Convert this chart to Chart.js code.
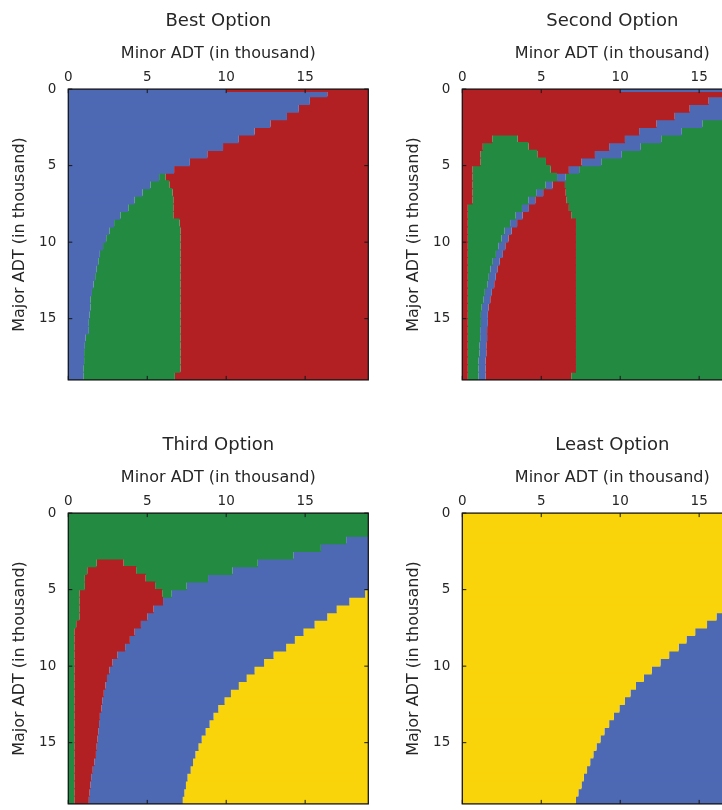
<!DOCTYPE html>
<html>
<head>
<meta charset="utf-8">
<script src="https://cdn.jsdelivr.net/npm/chart.js@4.4.1/dist/chart.umd.min.js"></script>
<style>
  html, body { margin: 0; padding: 0; background: #fff; overflow: hidden; width: 722px; height: 810px; }
  canvas.panel { position: absolute; width: 394px; height: 400px; }
</style>
</head>
<body>
<canvas id="best"   class="panel" width="394" height="400" style="left:0;top:0"></canvas>
<canvas id="second" class="panel" width="394" height="400" style="left:394px;top:0"></canvas>
<canvas id="third"  class="panel" width="394" height="400" style="left:0;top:424px"></canvas>
<canvas id="least"  class="panel" width="394" height="400" style="left:394px;top:424px"></canvas>
<script>
const COLORS = {
  blue:   '#4e69b4',
  red:    '#b22024',
  green:  '#238a42',
  yellow: '#fad40a',
};
const TEXT = '#262626';

const X_MIN = 0;
const X_MAX = 19;
const xTickValues = [0, 5, 10, 15];
const yTickValues = [0, 5, 10, 15];

// rows of the map, major ADT (in thousand)
const rowCenters = [0.25, 0.75, 1.25, 1.75, 2.25, 2.75, 3.25, 3.75, 4.25, 4.75,
  5.25, 5.75, 6.25, 6.75, 7.25, 7.75, 8.25, 8.75, 9.25, 9.75,
  10.25, 10.75, 11.25, 11.75, 12.25, 12.75, 13.25, 13.75, 14.25, 14.75,
  15.25, 15.75, 16.25, 16.75, 17.25, 17.75, 18.25, 18.75];

// Best Option: blue | green | red
const bestBlueEnd = [16.4, 15.3, 14.6, 13.85, 12.8, 11.8, 10.8, 9.8, 8.8, 7.7,
  6.7, 5.75, 5.2, 4.7, 4.2, 3.8, 3.3, 2.9, 2.6, 2.4,
  2.2, 2.0, 1.9, 1.8, 1.7, 1.6, 1.5, 1.4, 1.4, 1.35,
  1.3, 1.3, 1.1, 1.05, 1.0, 1.0, 0.95, 0.95];
const bestGreenEnd = [16.4, 15.3, 14.6, 13.85, 12.8, 11.8, 10.8, 9.8, 8.8, 7.7,
  6.7, 6.15, 6.4, 6.6, 6.65, 6.65, 6.65, 7.05, 7.1, 7.1,
  7.1, 7.1, 7.1, 7.1, 7.1, 7.1, 7.1, 7.1, 7.1, 7.1,
  7.1, 7.1, 7.1, 7.1, 7.1, 7.1, 7.1, 6.75];
const bestTopRow = [10, 19];

// Second Option: red | green | red | blue | red | green
const secondA = [16.7, 15.6, 14.4, 13.45, 12.3, 11.2, 1.9, 1.3, 1.15, 1.15,
  0.65, 0.65, 0.65, 0.65, 0.65, 0.35, 0.35, 0.35, 0.35, 0.35,
  0.35, 0.35, 0.35, 0.35, 0.35, 0.35, 0.35, 0.35, 0.35, 0.35,
  0.35, 0.35, 0.35, 0.35, 0.35, 0.35, 0.35, 0.35];
const secondB = [16.7, 15.6, 14.4, 13.45, 12.3, 11.2, 3.5, 4.2, 4.75, 5.3,
  5.6, 6.0, 5.28, 4.68, 4.18, 3.78, 3.38, 3.03, 2.68, 2.48,
  2.28, 2.13, 1.93, 1.78, 1.68, 1.58, 1.43, 1.33, 1.23, 1.18,
  1.18, 1.13, 1.13, 1.08, 1.08, 1.03, 1.03, 1.03];
const secondC = [16.7, 15.6, 14.4, 13.45, 12.3, 11.2, 10.3, 9.3, 8.4, 7.55,
  6.75, 6.0, 5.28, 4.68, 4.18, 3.78, 3.38, 3.03, 2.68, 2.48,
  2.28, 2.13, 1.93, 1.78, 1.68, 1.58, 1.43, 1.33, 1.23, 1.18,
  1.18, 1.13, 1.13, 1.08, 1.08, 1.03, 1.03, 1.03];
const secondD = [19, 19, 18.2, 16.5, 15.2, 13.9, 12.6, 11.3, 10.1, 8.8,
  7.4, 6.55, 5.72, 5.12, 4.62, 4.22, 3.82, 3.47, 3.12, 2.92,
  2.72, 2.57, 2.37, 2.22, 2.12, 2.02, 1.87, 1.77, 1.67, 1.62,
  1.62, 1.57, 1.57, 1.52, 1.52, 1.47, 1.47, 1.47];
const secondE = [19, 19, 18.2, 16.5, 15.2, 13.9, 12.6, 11.3, 10.1, 8.8,
  7.4, 6.55, 6.5, 6.55, 6.6, 6.75, 6.9, 7.2, 7.2, 7.2,
  7.2, 7.2, 7.2, 7.2, 7.2, 7.2, 7.2, 7.2, 7.2, 7.2,
  7.2, 7.2, 7.2, 7.2, 7.2, 7.2, 7.2, 6.9];
const secondTopRow = [10, 19];

// Third Option: green | red | green | blue | yellow
const thirdA = [19, 19, 19, 17.6, 16.0, 14.25, 1.8, 1.2, 1.05, 1.05,
  0.7, 0.7, 0.7, 0.7, 0.5, 0.38, 0.38, 0.38, 0.38, 0.38,
  0.38, 0.38, 0.38, 0.38, 0.38, 0.38, 0.38, 0.38, 0.38, 0.38,
  0.38, 0.38, 0.38, 0.38, 0.38, 0.38, 0.38, 0.38];
const thirdB = [19, 19, 19, 17.6, 16.0, 14.25, 3.5, 4.3, 4.9, 5.5,
  5.95, 6.0, 5.4, 5.0, 4.6, 4.2, 3.9, 3.6, 3.1, 2.8,
  2.6, 2.45, 2.35, 2.25, 2.15, 2.1, 2.0, 1.95, 1.9, 1.85,
  1.8, 1.75, 1.65, 1.55, 1.45, 1.4, 1.35, 1.3];
const thirdC = [19, 19, 19, 17.6, 16.0, 14.25, 12.0, 10.4, 8.85, 7.5,
  6.55, 6.0, 5.4, 5.0, 4.6, 4.2, 3.9, 3.6, 3.1, 2.8,
  2.6, 2.45, 2.35, 2.25, 2.15, 2.1, 2.0, 1.95, 1.9, 1.85,
  1.8, 1.75, 1.65, 1.55, 1.45, 1.4, 1.35, 1.3];
const thirdD = [19, 19, 19, 19, 19, 19, 19, 19, 19, 19,
  18.8, 17.8, 17.0, 16.4, 15.6, 14.9, 14.35, 13.8, 13.0, 12.4,
  11.8, 11.3, 10.8, 10.3, 9.9, 9.5, 9.2, 8.95, 8.7, 8.45,
  8.25, 8.05, 7.9, 7.75, 7.55, 7.45, 7.35, 7.25];

// Least Option: yellow | blue
const leastYellowEnd = [19, 19, 19, 19, 19, 19, 19, 19, 19, 19,
  18.4, 17.6, 16.8, 16.1, 15.5, 14.75, 14.2, 13.7, 13.1, 12.55,
  12.0, 11.5, 11.0, 10.65, 10.3, 9.95, 9.6, 9.3, 9.0, 8.75,
  8.5, 8.3, 8.1, 7.9, 7.7, 7.55, 7.35, 7.2];


const at = (v, i) => Array.isArray(v) ? v[i] : v;

// one floating bar per row, empty segments left out
function band(color, starts, ends) {
  const data = rowCenters
    .map((y, i) => ({ y, x: [at(starts, i), at(ends, i)] }))
    .filter(p => p.x[1] - p.x[0] > 0.01);
  return { type: 'bar', data, backgroundColor: color, borderWidth: 0 };
}

// the half row lying on the top edge
function topRow(color, seg) {
  return {
    type: 'line',
    data: [{ x: seg[0], y: 0 }, { x: seg[1], y: 0 }],
    borderColor: color, borderWidth: 6, pointRadius: 0, clip: 0,
  };
}

const framePlugin = {
  id: 'frame',
  afterDatasetsDraw(chart) {
    const { ctx, chartArea: a, scales: { x, y } } = chart;
    ctx.save();
    ctx.strokeStyle = '#151515';
    ctx.lineWidth = 1.3;
    ctx.strokeRect(a.left, a.top, a.right - a.left, a.bottom - a.top);
    ctx.lineWidth = 1;
    ctx.beginPath();
    xTickValues.forEach(v => {
      const px = x.getPixelForValue(v);
      ctx.moveTo(px, a.top);    ctx.lineTo(px, a.top + 4);
      ctx.moveTo(px, a.bottom); ctx.lineTo(px, a.bottom - 4);
    });
    yTickValues.forEach(v => {
      const py = y.getPixelForValue(v);
      ctx.moveTo(a.left, py);  ctx.lineTo(a.left + 4, py);
      ctx.moveTo(a.right, py); ctx.lineTo(a.right - 4, py);
    });
    ctx.stroke();
    ctx.restore();
  }
};

Chart.defaults.font.family = '"DejaVu Sans", sans-serif';
Chart.defaults.color = TEXT;

function makePanel(id, title, datasets) {
  const ctx = document.getElementById(id).getContext('2d');
  return new Chart(ctx, {
    type: 'bar',
    data: { datasets },
    options: {
      responsive: false,
      animation: false,
      events: [],
      indexAxis: 'y',
      layout: { padding: { left: 0, top: 0, right: 25.7, bottom: 10.7 } },
      // rows overlap a little so no seams show between them
      datasets: { bar: { grouped: false, barPercentage: 1.15, categoryPercentage: 1, inflateAmount: 0 } },
      plugins: {
        legend: { display: false },
        tooltip: { enabled: false },
        title: {
          display: true, text: title, fullSize: false, color: TEXT,
          font: { size: 18, weight: 'normal' },
          padding: { top: 11, bottom: 2 },
        },
      },
      scales: {
        x: {
          type: 'linear', position: 'top', min: X_MIN, max: X_MAX,
          grid: { display: false, drawTicks: false },
          border: { display: false },
          ticks: { color: TEXT, font: { size: 13.5 }, padding: 4, maxRotation: 0 },
          title: {
            display: true, text: 'Minor ADT (in thousand)', color: TEXT,
            font: { size: 16 }, padding: { top: 9.5, bottom: 0 },
          },
          afterBuildTicks: s => { s.ticks = xTickValues.map(value => ({ value })); },
          afterFit: s => { s.height = 54.5; },
        },
        y: {
          type: 'linear', reverse: true, min: X_MIN, max: X_MAX, offset: false,
          grid: { display: false, drawTicks: false },
          border: { display: false },
          ticks: { color: TEXT, font: { size: 13.5 }, padding: 12 },
          title: {
            display: true, text: 'Major ADT (in thousand)', color: TEXT,
            font: { size: 16 }, padding: { top: 10, bottom: 0 },
          },
          afterBuildTicks: s => { s.ticks = yTickValues.map(value => ({ value })); },
          afterFit: s => { s.width = 68.3; },
        },
      },
    },
    plugins: [framePlugin],
  });
}

makePanel('best', 'Best Option', [
  topRow(COLORS.red, bestTopRow),
  band(COLORS.blue,  X_MIN, bestBlueEnd),
  band(COLORS.green, bestBlueEnd, bestGreenEnd),
  band(COLORS.red,   bestGreenEnd, X_MAX),
]);

makePanel('second', 'Second Option', [
  topRow(COLORS.blue, secondTopRow),
  band(COLORS.red,   X_MIN, secondA),
  band(COLORS.green, secondA, secondB),
  band(COLORS.red,   secondB, secondC),
  band(COLORS.blue,  secondC, secondD),
  band(COLORS.red,   secondD, secondE),
  band(COLORS.green, secondE, X_MAX),
]);

makePanel('third', 'Third Option', [
  band(COLORS.green,  X_MIN, thirdA),
  band(COLORS.red,    thirdA, thirdB),
  band(COLORS.green,  thirdB, thirdC),
  band(COLORS.blue,   thirdC, thirdD),
  band(COLORS.yellow, thirdD, X_MAX),
]);

makePanel('least', 'Least Option', [
  band(COLORS.yellow, X_MIN, leastYellowEnd),
  band(COLORS.blue,   leastYellowEnd, X_MAX),
]);
</script>
</body>
</html>
